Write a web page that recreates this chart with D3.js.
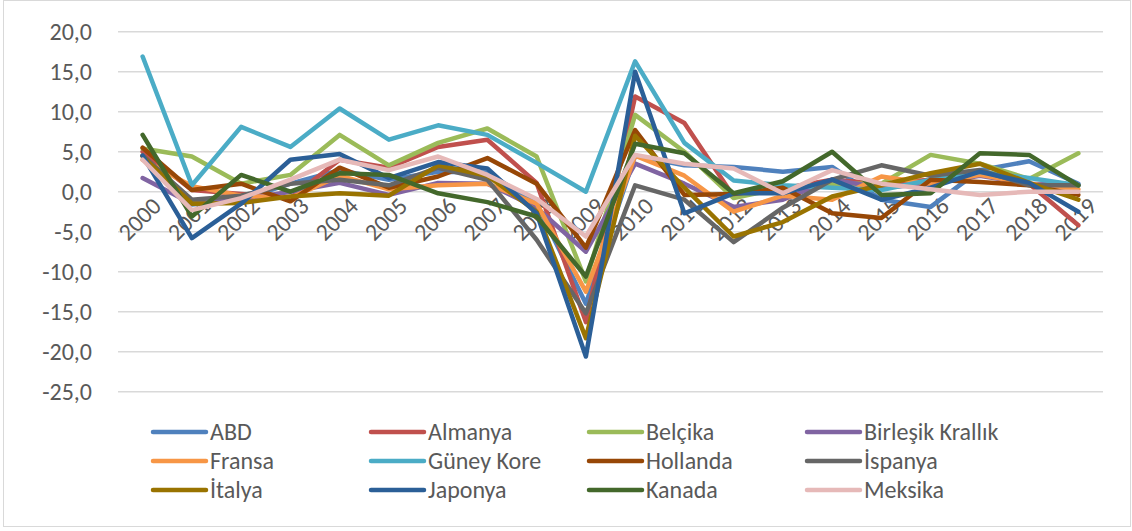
<!DOCTYPE html>
<html>
<head>
<meta charset="utf-8">
<script src="https://cdn.jsdelivr.net/npm/d3@7"></script>
<style>
  body { margin: 0; background: #fff; }
  text { font-family: Carlito, Lato, sans-serif; }
</style>
</head>
<body>
<script>
var years = ["2000","2001","2002","2003","2004","2005","2006","2007","2008","2009",
             "2010","2011","2012","2013","2014","2015","2016","2017","2018","2019"];
var yTicks = [20, 15, 10, 5, 0, -5, -10, -15, -20, -25];

var countries = ["ABD","Almanya","Belçika","Birleşik Krallık","Fransa","Güney Kore",
                 "Hollanda","İspanya","İtalya","Japonya","Kanada","Meksika"];
var colors = ["#4F81BD","#C0504D","#9BBB59","#8064A2","#F79646","#4BACC6",
              "#974706","#666666","#997300","#2B5F97","#43682B","#E6B9B8"];

var abd      = [4.5,-1.6,-1.0,1.0,2.7,1.5,2.5,2.4,-1.5,-14.0,4.5,3.3,3.1,2.5,3.1,-1.0,-1.9,2.7,3.8,1.0];
var almanya  = [5.0,0.2,-0.3,-0.8,4.0,3.0,5.6,6.5,1.1,-16.3,11.9,8.6,-0.6,0.4,1.5,1.0,1.5,2.5,1.0,-4.2];
var belcika  = [5.4,4.4,1.0,2.1,7.1,3.3,6.1,7.9,4.4,-11.2,9.6,5.0,-0.8,0.5,1.0,1.0,4.6,3.5,1.6,4.8];
var bk       = [1.7,-1.5,-1.0,0.0,1.1,-0.4,1.1,1.0,-2.0,-7.5,3.5,1.0,-1.9,-1.0,1.5,0.5,1.0,2.0,1.0,0.8];
var fransa   = [4.0,0.7,-0.5,-0.8,2.0,0.3,0.8,1.0,-1.5,-12.5,4.5,2.0,-2.5,-0.5,-1.0,1.9,1.0,2.1,1.0,0.3];
var guneyKore= [16.9,0.8,8.1,5.6,10.4,6.5,8.3,7.1,3.6,0.0,16.3,6.1,1.4,0.8,0.5,0.2,1.5,2.5,1.7,0.8];
var hollanda = [5.5,0.2,1.0,-1.2,3.0,0.5,1.9,4.2,1.0,-7.0,7.7,-0.4,-0.3,0.5,-2.7,-3.3,1.5,1.2,0.8,-0.4];
var ispanya  = [4.5,-1.0,-0.5,1.0,1.5,0.8,3.0,1.5,-6.0,-15.2,0.8,-1.0,-6.3,-2.0,1.5,3.3,2.0,2.7,0.8,0.8];
var italya   = [4.4,-1.5,-1.4,-0.6,-0.2,-0.5,3.3,2.0,-2.5,-18.3,7.0,0.5,-5.6,-3.8,-0.6,0.8,2.3,3.5,1.1,-1.0];
var japonya  = [4.5,-5.8,-1.5,4.0,4.7,1.7,3.7,2.9,-2.7,-20.6,15.0,-2.7,-0.2,-0.2,1.5,-1.0,0.5,2.5,1.1,-2.5];
var kanada   = [7.1,-3.1,2.1,0.0,2.3,2.1,-0.2,-1.3,-3.1,-10.6,6.0,4.8,-0.2,1.3,5.0,-0.4,-0.2,4.8,4.6,0.8];
var meksika  = [4.0,-2.3,-0.8,1.5,4.0,2.7,4.4,2.1,-0.9,-5.6,4.6,3.5,2.9,-0.2,2.7,1.0,0.3,-0.4,0.0,0.0];

var values = [abd, almanya, belcika, bk, fransa, guneyKore, hollanda, ispanya, italya, japonya, kanada, meksika];

var width = 1132, height = 531;

var svg = d3.select("body").append("svg")
    .attr("width", width)
    .attr("height", height);

svg.append("rect")
    .attr("x", 3.5).attr("y", 0.5)
    .attr("width", 1127).attr("height", 526)
    .attr("fill", "#fff")
    .attr("stroke", "#D9D9D9");

var x = d3.scalePoint().domain(years).range([118, 1103]).padding(0.5);
var y = d3.scaleLinear().domain([-25, 20]).range([391.7, 31.7]);

// grid
svg.append("g").selectAll("line")
    .data(yTicks)
    .enter().append("line")
    .attr("x1", 118).attr("x2", 1103)
    .attr("y1", function(d) { return y(d); })
    .attr("y2", function(d) { return y(d); })
    .attr("stroke", "#D9D9D9")
    .attr("stroke-width", 1.5);

// y labels
svg.append("g").selectAll("text")
    .data(yTicks)
    .enter().append("text")
    .attr("x", 92)
    .attr("y", function(d) { return y(d); })
    .attr("dy", "0.35em")
    .attr("text-anchor", "end")
    .attr("font-size", "24px")
    .attr("fill", "#595959")
    .text(function(d) { return d.toFixed(1).replace(".", ","); });

// x labels, sitting on the zero line
svg.append("g").selectAll("text")
    .data(years)
    .enter().append("text")
    .attr("text-anchor", "end")
    .attr("font-size", "24px")
    .attr("fill", "#595959")
    .attr("transform", function(d) {
        return "translate(" + (x(d) + 8) + "," + (y(0) + 4) + ") rotate(-45)";
    })
    .attr("dy", "0.7em")
    .text(function(d) { return d; });

var line = d3.line()
    .x(function(d, i) { return x(years[i]); })
    .y(function(d) { return y(d); });

svg.append("g").selectAll("path")
    .data(values)
    .enter().append("path")
    .attr("d", line)
    .attr("fill", "none")
    .attr("stroke", function(d, i) { return colors[i]; })
    .attr("stroke-width", 4.5)
    .attr("stroke-linejoin", "round")
    .attr("stroke-linecap", "round");

// legend
var legend = svg.append("g").selectAll("g")
    .data(countries)
    .enter().append("g")
    .attr("transform", function(d, i) {
        return "translate(" + (153 + (i % 4) * 218) + "," + (432 + Math.floor(i / 4) * 29) + ")";
    });

legend.append("line")
    .attr("x1", 0).attr("x2", 53)
    .attr("stroke", function(d, i) { return colors[i]; })
    .attr("stroke-width", 4.5)
    .attr("stroke-linecap", "round");

legend.append("text")
    .attr("x", 57)
    .attr("dy", "0.35em")
    .attr("font-size", "24px")
    .attr("fill", "#595959")
    .text(function(d) { return d; });
</script>
</body>
</html>
